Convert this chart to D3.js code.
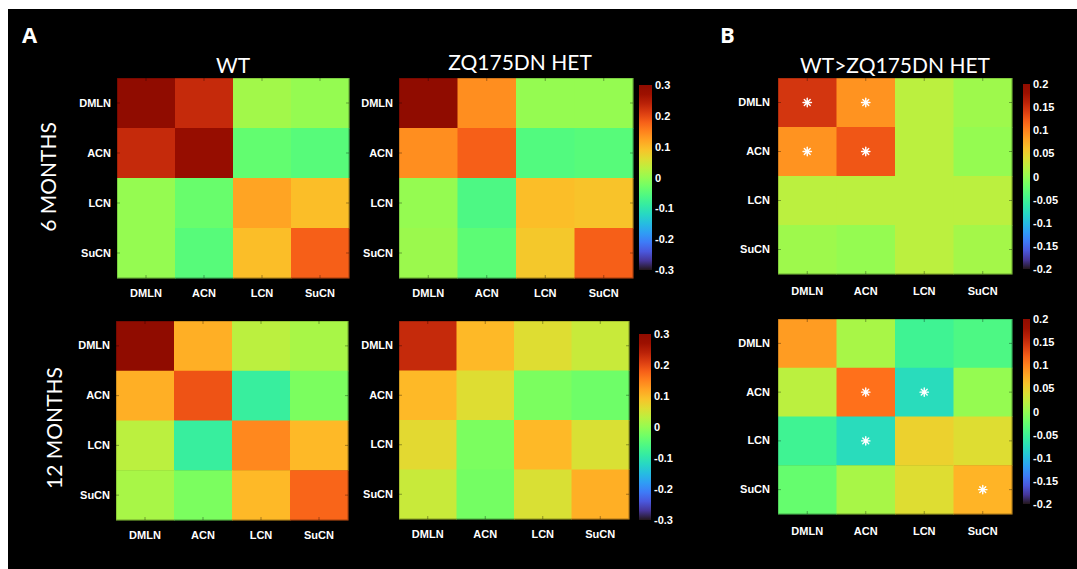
<!DOCTYPE html>
<html>
<head>
<meta charset="utf-8">
<script src="https://cdn.jsdelivr.net/npm/d3@7"></script>
<style>
  body { margin: 0; background: #fff; }
  svg { display: block; }
  .tick-lab text { font-family: "Liberation Sans", Arial, sans-serif; font-weight: bold; font-size: 11px; fill: #fff; }
  .title { font-family: Lato, "Open Sans", sans-serif; font-weight: 400; font-size: 21px; fill: #fff; }
  .panel-letter { font-family: "Open Sans", sans-serif; font-weight: bold; font-size: 22px; fill: #fff; }
</style>
</head>
<body>
<svg id="fig" width="1077" height="569"></svg>
<script>
// regions of interest (rows and columns of every matrix)
const rois = ["DMLN", "ACN", "LCN", "SuCN"];

// A: correlation matrices
const wt6 = [
    [0.30, 0.23, 0.01, 0.00],
    [0.23, 0.28, -0.04, -0.05],
    [0.00, -0.035, 0.12, 0.095],
    [0.00, -0.05, 0.095, 0.18]
];
const het6 = [
    [0.30, 0.14, 0.00, 0.00],
    [0.14, 0.18, -0.055, -0.05],
    [0.00, -0.06, 0.095, 0.09],
    [0.005, -0.045, 0.085, 0.18]
];
const wt12 = [
    [0.30, 0.11, 0.03, 0.015],
    [0.11, 0.19, -0.085, -0.02],
    [0.03, -0.085, 0.145, 0.10],
    [0.015, -0.02, 0.10, 0.175]
];
const het12 = [
    [0.23, 0.10, 0.06, 0.04],
    [0.10, 0.06, -0.02, -0.03],
    [0.065, -0.02, 0.10, 0.055],
    [0.04, -0.025, 0.055, 0.11]
];

// B: WT > HET differences
const diff6 = [
    [0.145, 0.09, 0.02, 0.005],
    [0.09, 0.125, 0.02, 0.00],
    [0.02, 0.02, 0.02, 0.02],
    [0.005, 0.00, 0.02, 0.008]
];
const diff12 = [
    [0.085, 0.01, -0.05, -0.04],
    [0.02, 0.11, -0.075, 0.00],
    [-0.05, -0.075, 0.05, 0.04],
    [-0.025, 0.01, 0.04, 0.07]
];
// significant cells [row, col]
const sig6 = [[0, 0], [0, 1], [1, 0], [1, 1]];
const sig12 = [[1, 1], [1, 2], [2, 1], [3, 3]];

// colorbar ticks
const cbTicksA = [0.3, 0.2, 0.1, 0, -0.1, -0.2, -0.3];
const cbTicksB = [0.2, 0.15, 0.1, 0.05, 0, -0.05, -0.1, -0.15, -0.2];

const svg = d3.select("#fig");
svg.append("rect").attr("x", 8).attr("y", 9).attr("width", 1069).attr("height", 560).attr("fill", "#000");

const defs = svg.append("defs");

function drawHeatmap(cfg) {
    const g = svg.append("g").attr("transform", "translate(" + cfg.x + "," + cfg.y + ")");
    const x = d3.scaleBand().domain(rois).range([0, cfg.w]);
    const y = d3.scaleBand().domain(rois).range([0, cfg.h]);
    const color = d3.scaleSequential(d3.interpolateTurbo).domain(cfg.domain).clamp(true);

    const cells = [];
    cfg.data.forEach((row, i) => row.forEach((v, j) => cells.push({r: rois[i], c: rois[j], v: v})));

    g.selectAll("rect.cell").data(cells).enter().append("rect")
        .attr("class", "cell")
        .attr("x", d => x(d.c))
        .attr("y", d => y(d.r))
        .attr("width", x.bandwidth() + 0.5)
        .attr("height", y.bandwidth() + 0.5)
        .attr("fill", d => color(d.v));

    // frame
    g.append("rect").attr("width", cfg.w).attr("height", cfg.h)
        .attr("fill", "none").attr("stroke", "#000").attr("stroke-opacity", 0.35);

    // inner tick marks, matlab style
    const tickAt = x.bandwidth() / 2;
    [["bottom", cfg.h], ["top", 0]].forEach(([side, yy]) => {
        g.selectAll(null).data(rois).enter().append("line")
            .attr("x1", d => x(d) + tickAt).attr("x2", d => x(d) + tickAt)
            .attr("y1", yy).attr("y2", side === "bottom" ? yy - 3 : yy + 3)
            .attr("stroke", "#000").attr("stroke-opacity", 0.35);
    });
    [["left", 0], ["right", cfg.w]].forEach(([side, xx]) => {
        g.selectAll(null).data(rois).enter().append("line")
            .attr("y1", d => y(d) + y.bandwidth() / 2).attr("y2", d => y(d) + y.bandwidth() / 2)
            .attr("x1", xx).attr("x2", side === "left" ? xx + 3 : xx - 3)
            .attr("stroke", "#000").attr("stroke-opacity", 0.35);
    });

    // axis labels
    const yAxis = g.append("g").attr("class", "tick-lab")
        .call(d3.axisLeft(y).tickSize(0).tickPadding(cfg.padY));
    yAxis.select(".domain").remove();
    const xAxis = g.append("g").attr("class", "tick-lab")
        .attr("transform", "translate(0," + cfg.h + ")")
        .call(d3.axisBottom(x).tickSize(0).tickPadding(cfg.padX));
    xAxis.select(".domain").remove();

    // stars
    if (cfg.sig) {
        cfg.sig.forEach(([i, j]) => {
            const s = g.append("g").attr("transform",
                "translate(" + (x(rois[j]) + tickAt) + "," + (y(rois[i]) + y.bandwidth() / 2) + ")");
            d3.range(8).forEach(k => {
                const a = k * Math.PI / 4;
                s.append("line").attr("x1", 0).attr("y1", 0)
                    .attr("x2", 4.2 * Math.cos(a)).attr("y2", 4.2 * Math.sin(a))
                    .attr("stroke", "#fff").attr("stroke-width", 1.4).attr("stroke-linecap", "round");
            });
            s.append("circle").attr("r", 2).attr("fill", "#fff");
        });
    }

    if (cfg.title) {
        svg.append("text").attr("class", "title")
            .attr("x", cfg.x + cfg.w / 2 + (cfg.titleDx || 0)).attr("y", cfg.titleY)
            .attr("text-anchor", "middle").text(cfg.title);
    }

    if (cfg.cb) drawColorbar(cfg.cb, color, cfg.domain);
}

function drawColorbar(cb, color, domain) {
    const id = "grad" + Math.round(cb.x) + "_" + Math.round(cb.y);
    const grad = defs.append("linearGradient").attr("id", id)
        .attr("x1", 0).attr("y1", 1).attr("x2", 0).attr("y2", 0);
    d3.range(0, 1.0001, 0.05).forEach(t => {
        grad.append("stop").attr("offset", t).attr("stop-color", color(domain[0] + t * (domain[1] - domain[0])));
    });
    const g = svg.append("g").attr("transform", "translate(" + cb.x + "," + cb.y + ")");
    g.append("rect").attr("width", cb.w).attr("height", cb.h).attr("fill", "url(#" + id + ")");
    const s = d3.scaleLinear().domain(domain).range([cb.h, 0]);
    const ax = g.append("g").attr("class", "tick-lab")
        .attr("transform", "translate(" + cb.w + ",0)")
        .call(d3.axisRight(s).tickValues(cb.ticks).tickFormat(d => String(d)).tickSize(0).tickPadding(3));
    ax.select(".domain").remove();
}

// panel A, 6 months
drawHeatmap({x: 117, y: 78, w: 232, h: 200, data: wt6, domain: [-0.3, 0.3], padX: 11, padY: 6, title: "WT", titleY: 73});
drawHeatmap({x: 399, y: 78, w: 234, h: 200, data: het6, domain: [-0.3, 0.3], padX: 11, padY: 6, title: "ZQ175DN HET", titleY: 70, titleDx: 4,
    cb: {x: 639, y: 85, w: 13, h: 185, ticks: cbTicksA}});
// panel A, 12 months
drawHeatmap({x: 116, y: 321, w: 232, h: 199, data: wt12, domain: [-0.3, 0.3], padX: 11, padY: 6});
drawHeatmap({x: 399, y: 321, w: 230, h: 198, data: het12, domain: [-0.3, 0.3], padX: 11, padY: 6,
    cb: {x: 639, y: 334, w: 12, h: 186, ticks: cbTicksA}});
// panel B
drawHeatmap({x: 778, y: 78, w: 234, h: 196, data: diff6, domain: [-0.2, 0.2], padX: 13, padY: 8, sig: sig6,
    title: "WT>ZQ175DN HET", titleY: 73, cb: {x: 1023, y: 84, w: 7, h: 185, ticks: cbTicksB}});
drawHeatmap({x: 778, y: 319, w: 234, h: 195, data: diff12, domain: [-0.2, 0.2], padX: 13, padY: 8, sig: sig12,
    cb: {x: 1023, y: 319, w: 7, h: 185, ticks: cbTicksB}});

// panel letters and row labels
svg.append("text").attr("class", "panel-letter").attr("x", 22).attr("y", 43).text("A");
svg.append("text").attr("class", "panel-letter").attr("x", 720).attr("y", 43).text("B");
svg.append("text").attr("class", "title").attr("text-anchor", "middle")
    .attr("transform", "translate(56,177) rotate(-90)").text("6 MONTHS");
svg.append("text").attr("class", "title").attr("text-anchor", "middle")
    .attr("transform", "translate(62,428) rotate(-90)").text("12 MONTHS");
</script>
</body>
</html>
